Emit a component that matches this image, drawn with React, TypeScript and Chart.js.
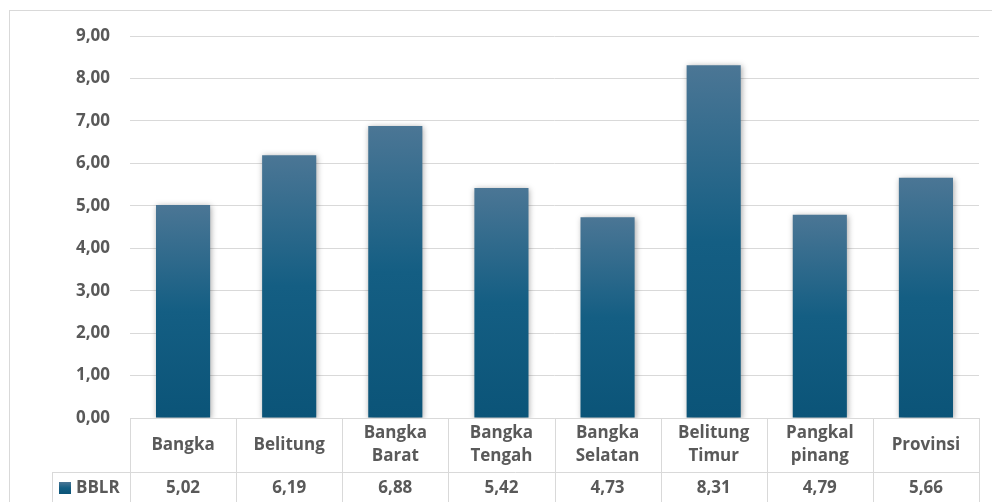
import React, { useEffect, useRef } from "react";
import { Chart, registerables } from "chart.js";

Chart.register(...registerables);

const categories: string[][] = [
  ["Bangka"],
  ["Belitung"],
  ["Bangka", "Barat"],
  ["Bangka", "Tengah"],
  ["Bangka", "Selatan"],
  ["Belitung", "Timur"],
  ["Pangkal", "pinang"],
  ["Provinsi"],
];
const seriesName = "BBLR";
const bblrValues = [5.02, 6.19, 6.88, 5.42, 4.73, 8.31, 4.79, 5.66];
const yMin = 0;
const yMax = 9;
const yStep = 1;

const TEXT = "#595959";
const LINE = "#d9d9d9";
const FONT_FAMILY = "'Open Sans', sans-serif";
const FONT_SIZE = 17;

const fmt = (v: number) => v.toFixed(2).replace(".", ",");

function barGradient(ctx: CanvasRenderingContext2D, top: number, bottom: number) {
  const g = ctx.createLinearGradient(0, top, 0, bottom);
  g.addColorStop(0, "#4b7695");
  g.addColorStop(0.5, "#145e83");
  g.addColorStop(1, "#0b5478");
  return g;
}

const shadowPlugin = {
  id: "barShadow",
  beforeDatasetsDraw(chart: any) {
    const ctx = chart.ctx;
    ctx.save();
    ctx.shadowColor = "rgba(0,0,0,0.35)";
    ctx.shadowBlur = 6;
    ctx.shadowOffsetX = 1;
    ctx.shadowOffsetY = 1;
  },
  afterDatasetsDraw(chart: any) {
    chart.ctx.restore();
  },
};

const tablePlugin = {
  id: "dataTable",
  beforeDraw(chart: any) {
    const ctx = chart.ctx;
    ctx.save();
    ctx.fillStyle = "#ffffff";
    ctx.fillRect(0, 0, chart.width, chart.height);
    ctx.restore();
  },
  afterDraw(chart: any) {
    const ctx: CanvasRenderingContext2D = chart.ctx;
    const area = chart.chartArea;
    const xs = chart.scales.x;
    const n = categories.length;
    const colW = (area.right - area.left) / n;
    const headerTop = area.bottom;
    const headerBottom = area.bottom + 54;
    const rowBottom = chart.height + 10;
    const legendLeft = 52;

    ctx.save();
    // outer border
    ctx.strokeStyle = LINE;
    ctx.lineWidth = 1;
    ctx.strokeRect(9.5, 10.5, chart.width + 20, chart.height + 20);

    // table lines
    ctx.beginPath();
    ctx.moveTo(area.left, Math.round(headerTop) + 0.5);
    ctx.lineTo(area.right, Math.round(headerTop) + 0.5);
    ctx.moveTo(legendLeft, Math.round(headerBottom) + 0.5);
    ctx.lineTo(area.right, Math.round(headerBottom) + 0.5);
    for (let i = 0; i <= n; i++) {
      const x = Math.round(area.left + i * colW) + 0.5;
      ctx.moveTo(x, headerTop);
      ctx.lineTo(x, rowBottom);
    }
    ctx.moveTo(legendLeft + 0.5, headerBottom);
    ctx.lineTo(legendLeft + 0.5, rowBottom);
    ctx.stroke();

    // header labels
    ctx.fillStyle = TEXT;
    ctx.font = `bold ${FONT_SIZE}px ${FONT_FAMILY}`;
    ctx.textAlign = "center";
    ctx.textBaseline = "middle";
    const lineH = 23;
    const headerMid = (headerTop + headerBottom) / 2;
    const rowMid = headerBottom + 16;
    categories.forEach((lines, i) => {
      const cx = xs.getPixelForValue(i);
      const startY = headerMid - ((lines.length - 1) * lineH) / 2;
      lines.forEach((t, j) => ctx.fillText(t, cx, startY + j * lineH));
      ctx.fillText(fmt(bblrValues[i]), cx, rowMid);
    });

    // legend cell
    const sq = 12;
    const sqX = 59;
    const sqY = rowMid - 6;
    ctx.fillStyle = barGradient(ctx, sqY, sqY + sq);
    ctx.fillRect(sqX, sqY, sq, sq);
    ctx.fillStyle = TEXT;
    ctx.textAlign = "left";
    ctx.fillText(seriesName, 76, rowMid);
    ctx.restore();
  },
};

export default function App() {
  const ref = useRef<HTMLCanvasElement | null>(null);

  useEffect(() => {
    if (!ref.current) return;
    const chart = new Chart(ref.current, {
      type: "bar",
      data: {
        labels: categories.map((c) => c.join(" ")),
        datasets: [
          {
            label: seriesName,
            data: bblrValues,
            backgroundColor: (c: any) => {
              const ch = c.chart;
              if (!ch.chartArea || c.raw === undefined) return "#145e83";
              const y = ch.scales.y;
              return barGradient(ch.ctx, y.getPixelForValue(c.raw), y.getPixelForValue(0));
            },
            borderWidth: 0,
            categoryPercentage: 1,
            barPercentage: 0.51,
          },
        ],
      },
      options: {
        responsive: false,
        animation: false,
        layout: { padding: { left: 0, right: 13, top: 36, bottom: 84 } },
        plugins: { legend: { display: false }, tooltip: { enabled: false } },
        scales: {
          x: { display: false },
          y: {
            min: yMin,
            max: yMax,
            afterFit: (s: any) => {
              s.width = 130;
            },
            border: { display: false },
            grid: { color: LINE, lineWidth: 1, drawTicks: false },
            ticks: {
              stepSize: yStep,
              padding: 20,
              color: TEXT,
              font: { family: FONT_FAMILY, size: FONT_SIZE, weight: "bold" },
              callback: (v: any) => fmt(Number(v)),
            },
          },
        },
      },
      plugins: [tablePlugin, shadowPlugin],
    } as any);
    return () => chart.destroy();
  }, []);

  return (
    <div style={{ position: "fixed", left: 0, top: 0, width: 992, height: 502, background: "#fff" }}>
      <canvas ref={ref} width={992} height={502} style={{ display: "block", width: 992, height: 502 }} />
    </div>
  );
}
